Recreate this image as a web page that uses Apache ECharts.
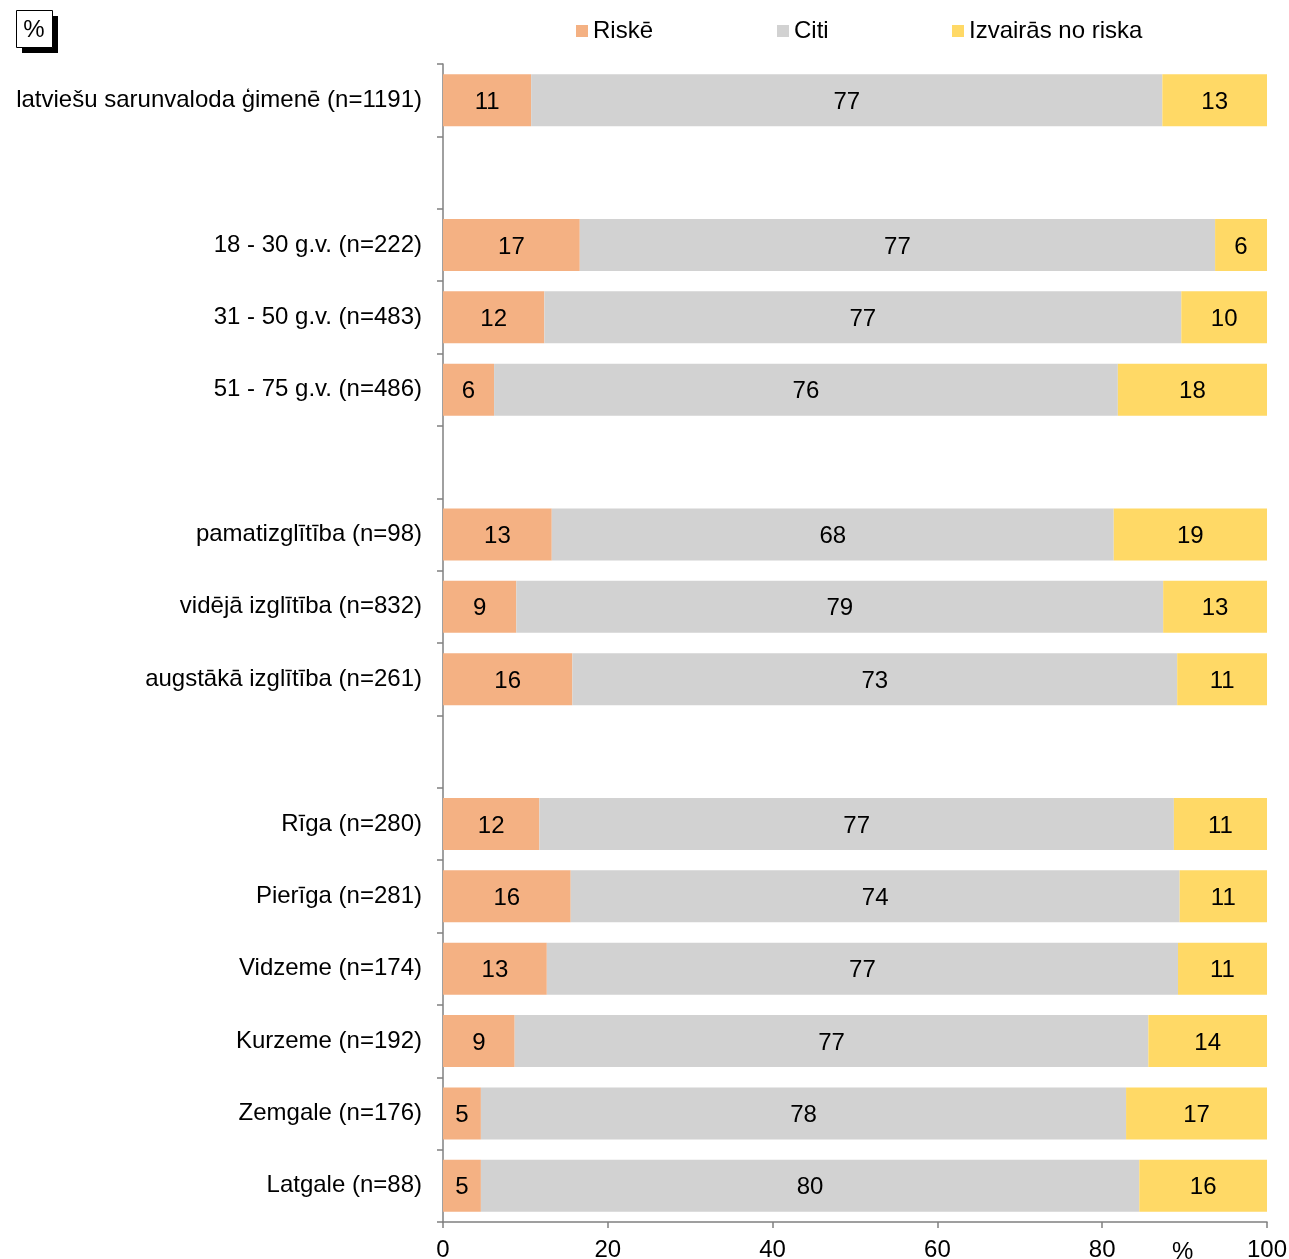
<!DOCTYPE html>
<html>
<head>
<meta charset="utf-8">
<script src="https://cdn.jsdelivr.net/npm/echarts@6/dist/echarts.min.js"></script>
<style>html,body{margin:0;padding:0;background:#fff;}#c{width:1289px;height:1259px;}</style>
</head>
<body>
<div id="c"></div>
<script>
const categories = [
  'latviešu sarunvaloda ģimenē (n=1191)', ' ',
  '18 - 30 g.v. (n=222)', '31 - 50 g.v. (n=483)', '51 - 75 g.v. (n=486)', '  ',
  'pamatizglītība (n=98)', 'vidējā izglītība (n=832)', 'augstākā izglītība (n=261)', '   ',
  'Rīga (n=280)', 'Pierīga (n=281)', 'Vidzeme (n=174)', 'Kurzeme (n=192)', 'Zemgale (n=176)', 'Latgale (n=88)'
];
const seriesNames = ['Riskē', 'Citi', 'Izvairās no riska'];
const riske = [10.7, null, 16.6, 12.3, 6.2, null, 13.2, 8.9, 15.7, null, 11.7, 15.5, 12.6, 8.7, 4.6, 4.6];
const citi  = [76.6, null, 77.1, 77.3, 75.7, null, 68.2, 78.5, 73.4, null, 77.0, 73.9, 76.6, 76.9, 78.3, 79.9];
const izv   = [12.7, null, 6.3, 10.4, 18.1, null, 18.6, 12.6, 10.9, null, 11.3, 10.6, 10.8, 14.4, 17.1, 15.5];
const xTicks = [0, 20, 40, 60, 80, 100];

const colors = ['#F4B183', '#D2D2D2', '#FFD966'];
const FONT = 'Liberation Sans, Arial, sans-serif';

const chart = echarts.init(document.getElementById('c'), null, {renderer: 'canvas'});
const mk = (name, data, color) => ({
  name, type: 'bar', stack: 'all', data, barCategoryGap: '28%',
  itemStyle: {color},
  label: {show: true, position: 'inside', color: '#000', fontSize: 24, fontFamily: FONT, offset: [0, 2],
    formatter: p => (p.value == null ? '' : String(Math.round(p.value)))},
  emphasis: {disabled: true}
});
const legendLefts = [576, 777, 952];
chart.setOption({
  animation: false,
  textStyle: {fontFamily: FONT},
  legend: seriesNames.map((n, i) => ({
    data: [n], left: legendLefts[i], top: 19, padding: 0,
    icon: 'rect', itemWidth: 12, itemHeight: 12, selectedMode: false,
    textStyle: {fontSize: 24, color: '#000', fontFamily: FONT, padding: [0, 0, 0, 0]}
  })),
  grid: {left: 443, right: 22, top: 64, bottom: 37, containLabel: false, outerBoundsMode: 'none'},
  xAxis: {
    type: 'value', min: xTicks[0], max: xTicks[xTicks.length - 1], interval: 20,
    axisLine: {show: true, lineStyle: {color: '#808080', width: 1.5}},
    axisTick: {show: true, length: 6, lineStyle: {color: '#808080', width: 1.5}},
    splitLine: {show: false},
    axisLabel: {color: '#000', fontSize: 24, fontFamily: FONT, margin: 16}
  },
  yAxis: {
    type: 'category', data: categories, inverse: true,
    axisLine: {show: true, lineStyle: {color: '#808080', width: 1.5}},
    axisTick: {show: true, length: 6, lineStyle: {color: '#808080', width: 1.5}},
    axisLabel: {color: '#000', fontSize: 24, fontFamily: FONT, margin: 21}
  },
  graphic: [
    {type: 'rect', left: 22, top: 16, shape: {width: 36, height: 37}, style: {fill: '#000'}},
    {type: 'rect', left: 16, top: 10, shape: {width: 36, height: 37}, style: {fill: '#fff', stroke: '#000', lineWidth: 1}},
    {type: 'text', x: 34, y: 30, style: {text: '%', fontSize: 24, fontFamily: FONT, fill: '#000', align: 'center', verticalAlign: 'middle'}},
    {type: 'text', left: 1172, top: 1240, style: {text: '%', fontSize: 24, fontFamily: FONT, fill: '#000'}}
  ],
  series: [mk(seriesNames[0], riske, colors[0]), mk(seriesNames[1], citi, colors[1]), mk(seriesNames[2], izv, colors[2])]
});
</script>
</body>
</html>
